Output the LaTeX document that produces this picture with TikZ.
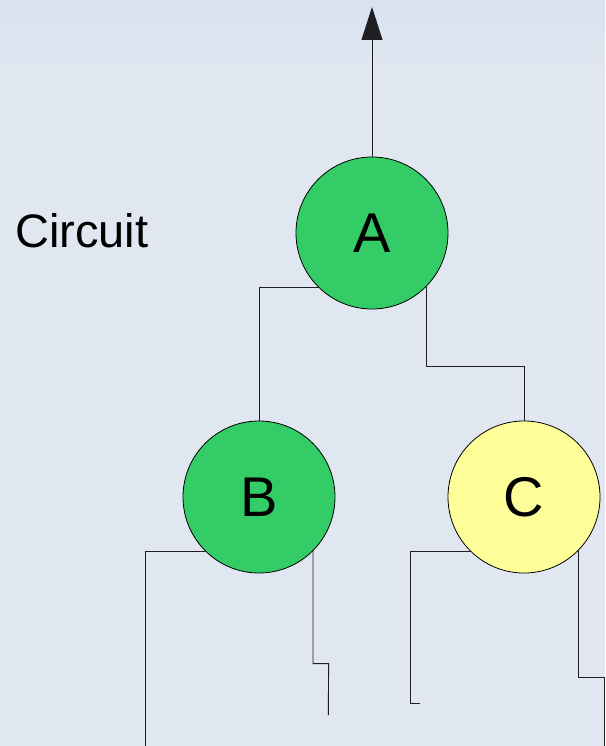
\documentclass[tikz,border=0pt]{standalone}
\usepackage{fontspec}
\setmainfont{Liberation Sans}
\usetikzlibrary{arrows.meta}
\definecolor{bgcol}{RGB}{224,231,241}
\definecolor{bgtop}{RGB}{216,226,240}
\definecolor{greenfill}{RGB}{51,204,102}
\definecolor{yellowfill}{RGB}{255,255,153}
\definecolor{wirecol}{RGB}{30,30,35}
\tikzset{
  gate/.style={circle, draw=black, line width=0.8pt, minimum size=152pt, inner sep=0pt,
    font=\fontsize{56}{60}\selectfont},
  greengate/.style={gate, fill=greenfill},
  yellowgate/.style={gate, fill=yellowfill},
  wire/.style={draw=wirecol, line width=0.9pt},
  label/.style={font=\fontsize{47}{54}\selectfont, inner sep=0pt, anchor=west}
}
\begin{document}
\begin{tikzpicture}[x=1pt,y=-1pt]
\useasboundingbox (0,0) rectangle (605,746);
\fill[bgcol] (0,0) rectangle (605,746);
\shade[top color=bgtop, bottom color=bgcol] (0,0) rectangle (605,70);

\node[label] (title) at (15,231) {Circuit};

\node[greengate] (A) at (372,233) {A};
\node[greengate] (B) at (259,497) {B};
\node[yellowgate] (C) at (524,497) {C};

\coordinate (top) at (372,7);
\coordinate (bl) at (145,750);
\coordinate (br) at (328.3,715);
\coordinate (cl) at (420.3,703);
\coordinate (cr) at (604.5,750);

\draw[wire, -{Triangle[length=33pt,width=21pt]}] (A.north) -- (top);
\draw[wire] (A.south west) -| (B.north);
\draw[wire] (A.south east) -- ++(0,79) -| (C.north);
\draw[wire] (B.south west) -| (bl);
\draw[wire] (B.south east) -- ++(0,112.6) -- ++(15.6,0) -- (br);
\draw[wire] (C.south west) -- ++(-59.6,0) |- (cl);
\draw[wire] (C.south east) |- (604.5,677) -- (cr);
\end{tikzpicture}
\end{document}
